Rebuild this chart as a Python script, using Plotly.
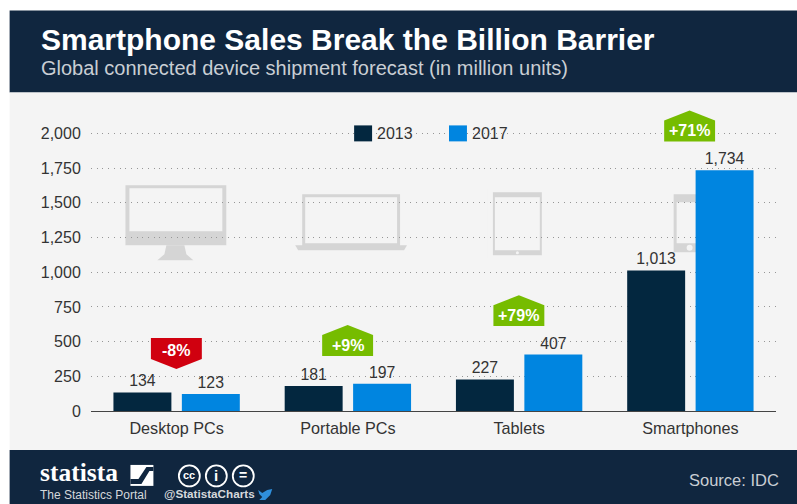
import plotly.graph_objects as go

categories = ["Desktop PCs", "Portable PCs", "Tablets", "Smartphones"]
values_2013 = [134, 181, 227, 1013]
values_2017 = [123, 197, 407, 1734]
y_ticks = [0, 250, 500, 750, 1000, 1250, 1500, 1750, 2000]
changes = ["-8%", "+9%", "+79%", "+71%"]

W, H = 797, 504
YMAX = 2010
L, R, B = 90.5, 776.5, 411
T = B - YMAX * 278 / 2000
NAVY = "#10263f"; DARK = "#03273f"; BLUE = "#0085e0"; GREEN = "#76bc00"; RED = "#d0000f"
BG = "#f4f4f4"; ICON = "#d5d5d5"; TXT = "#333333"
FONT = "Liberation Sans"

def fx(p): return (p - L) / (R - L)
def fy(p): return (B - p) / (B - T)
def dx(p): return (p - L) / ((R - L) / 4) - 0.5
def dy(p): return (B - p) * 2000 / 278

def ppath(pts):
    return "M" + " L".join(f"{fx(a):.5f},{fy(b):.5f}" for a, b in pts) + " Z"
def dpath(pts):
    return "M" + " L".join(f"{dx(a):.5f},{dy(b):.5f}" for a, b in pts) + " Z"

shapes, ann = [], []

def prect(x0, y0, x1, y1, color, layer="below"):
    shapes.append(dict(type="rect", xref="paper", yref="paper", x0=fx(x0), x1=fx(x1), y0=fy(y0), y1=fy(y1),
                       fillcolor=color, line_width=0, layer=layer))
def drect(x0, y0, x1, y1, color):
    shapes.append(dict(type="rect", xref="x", yref="y", x0=dx(x0), x1=dx(x1), y0=dy(y0), y1=dy(y1),
                       fillcolor=color, line_width=0, layer="below"))
def dpoly(pts, color):
    shapes.append(dict(type="path", xref="x", yref="y", path=dpath(pts), fillcolor=color, line_width=0, layer="below"))
def dcirc(cx, cy, r, color):
    shapes.append(dict(type="circle", xref="x", yref="y", x0=dx(cx - r), x1=dx(cx + r), y0=dy(cy - r), y1=dy(cy + r),
                       fillcolor=color, line_width=0, layer="below"))
def ppoly(pts, color, layer="above"):
    shapes.append(dict(type="path", xref="paper", yref="paper", path=ppath(pts), fillcolor=color, line_width=0, layer=layer))
def text(s, x, y, size, color, anchor="left", bold=False, family=FONT, bg=None):
    shift = {"left": -1.5, "right": 1.5, "center": 0}[anchor]
    a = dict(text=f"<b>{s}</b>" if bold else s, xref="paper", yref="paper", x=fx(x + shift), y=fy(y), xanchor=anchor,
             yanchor="middle", showarrow=False, font=dict(size=size, color=color, family=family), borderpad=0)
    if bg:
        a["bgcolor"] = bg
    ann.append(a)

# page panels
prect(9, 10, W + 1, 92, NAVY)
prect(9, 92, W + 1, 450, BG)
prect(9, 450, W + 1, H + 1, NAVY)

# device icons behind the bars, with masks hiding the grid
drect(119, 180, 230, 263, BG)
drect(125, 185, 226, 245, ICON); drect(129, 188, 222, 231, BG)
dpoly([(166, 245), (184, 245), (186, 254), (193, 260), (157, 260), (164, 254)], ICON)
drect(296, 190, 410, 254, BG)
drect(302, 194, 400, 246, ICON); drect(305, 197, 397, 243, BG)
dpoly([(295, 245), (407, 245), (404, 250), (298, 250)], ICON)
drect(488, 188, 545, 258, BG)
drect(493, 192, 542, 255, ICON); drect(495, 197, 540, 250, BG)
dcirc(517.5, 252.5, 1.5, BG)
drect(668, 190, 700, 256, BG)
drect(674, 194, 706, 252, ICON); drect(677, 202, 706, 243, BG)
dcirc(690, 247.5, 3, BG)

fig = go.Figure()
fig.add_bar(name="2013", x=categories, y=values_2013, marker=dict(color=DARK, line_width=0),
            text=values_2013, texttemplate="%{text:,}", textposition="outside", cliponaxis=False,
            textfont=dict(size=15.8, color=TXT, family=FONT))
fig.add_bar(name="2017", x=categories, y=values_2017, marker=dict(color=BLUE, line_width=0),
            text=values_2017, texttemplate="%{text:,}", textposition="outside", cliponaxis=False,
            textfont=dict(size=15.8, color=TXT, family=FONT))

# legend
prect(354, 125, 372, 141, DARK, "above")
prect(449, 125, 467, 141, BLUE, "above")
text("2013", 377, 133.5, 16, TXT)
text("2017", 473, 133.5, 16, TXT)
drect(346, 128, 418, 139, BG)
drect(445, 128, 512, 139, BG)

# change badges
def up(cx, top, label):
    ppoly([(cx - 25.5, top + 31), (cx - 25.5, top + 10), (cx, top), (cx + 25.5, top + 10), (cx + 25.5, top + 31)], GREEN)
    text(label, cx, top + 20.5, 16, "white", "center", True)
def down(cx, top, label):
    ppoly([(cx - 25.5, top), (cx + 25.5, top), (cx + 25.5, top + 21), (cx, top + 31), (cx - 25.5, top + 21)], RED)
    text(label, cx, top + 12.5, 16, "white", "center", True)
down(176, 338, changes[0])
up(347.5, 325, changes[1])
up(519, 295, changes[2])
up(690, 110, changes[3])

# header text
text("Smartphone Sales Break the Billion Barrier", 41, 39, 30, "white", bold=True)
text("Global connected device shipment forecast (in million units)", 41, 68, 20, "#c9ced4")

# footer
text("statista", 39.5, 472.5, 25.5, "white", bold=True, family="Liberation Sans Narrow")
text("The Statistics Portal", 40, 495.5, 12, "#d5d8dc")
prect(130, 465, 153, 486, "white", "above")
ppoly([(130, 479), (138, 479), (146, 467), (153, 467), (153, 471), (149, 471), (141, 484), (130, 484)], NAVY)
for cx in (189, 216, 243):
    shapes.append(dict(type="circle", xref="paper", yref="paper", x0=fx(cx - 10.5), x1=fx(cx + 10.5), y0=fy(476 - 10.5), y1=fy(476 + 10.5),
                       fillcolor="rgba(0,0,0,0)", line=dict(color="white", width=1.8), layer="above"))
text("cc", 189, 475, 11, "white", "center", True)
text("i", 216, 476, 15, "white", "center", True)
text("=", 243, 475, 14, "white", "center", True)
text("@StatistaCharts", 164, 494, 11.7, "#d5d8dc", bold=True)
ppoly([(258, 490), (262, 493), (267, 490), (272, 489), (270, 495), (265, 500), (259, 500), (262, 497), (259, 494)], "#2f8fdc")
text("Source: IDC", 779, 480, 16.5, "#c9ced4", "right")

fig.update_layout(
    width=W, height=H, autosize=False, margin=dict(l=L, r=W - R, t=T, b=H - B),
    paper_bgcolor="white", plot_bgcolor="rgba(0,0,0,0)", showlegend=False,
    barmode="group", bargap=0.201, bargroupgap=0.153,
    font=dict(family=FONT, color=TXT, size=16), shapes=shapes, annotations=ann,
    xaxis=dict(type="category", range=[-0.5, 3.5], showgrid=False, showline=True, linecolor="#444444", linewidth=1,
               ticks="outside", ticklen=3, tickcolor="rgba(0,0,0,0)", tickfont=dict(size=16.2, color=TXT, family=FONT)),
    yaxis=dict(range=[0, YMAX], tickvals=y_ticks, tickformat=",", showgrid=True, gridcolor="#969696", griddash="1px,4.7px",
               gridwidth=1, zeroline=False, showline=False, ticks="outside", ticklen=6, tickcolor="rgba(0,0,0,0)",
               tickfont=dict(size=16, color=TXT, family=FONT)),
)
fig.write_html("out.html", config=dict(displayModeBar=False), post_script="document.body.style.margin='0';")
